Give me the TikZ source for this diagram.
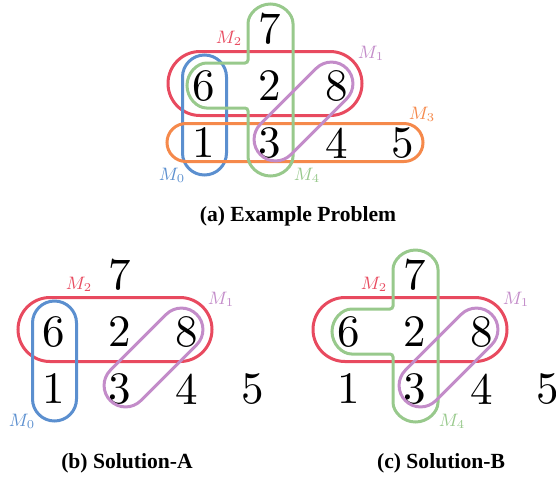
\documentclass[tikz,border=0pt]{standalone}
\usepackage{fontspec}
\usepackage{tikz}
\usetikzlibrary{shapes.misc}
\newfontfamily\capfont{Liberation Serif}
\newfontfamily\digitfont{lmroman10-regular.otf}
\definecolor{mred}{HTML}{E84A5F}
\definecolor{mblue}{HTML}{5B8FCF}
\definecolor{mgreen}{HTML}{98C98C}
\definecolor{morange}{HTML}{F5894B}
\definecolor{mpurple}{HTML}{C38CC9}

\begin{document}
\begin{tikzpicture}[x=0.5pt, y=-0.5pt,
    digit/.style={inner sep=0pt, font=\digitfont\fontsize{22.5}{22.5}\selectfont},
    grp/.style={rounded rectangle, draw, line width=1.5pt, inner sep=0pt},
    lbl/.style={inner sep=0pt, font=\fontsize{9}{9}\selectfont},
    subcap/.style={inner sep=0pt, font=\capfont\bfseries\fontsize{10.8}{10.8}\selectfont}]
  \useasboundingbox (0,0) rectangle (556,478);

  % the numbers, three times
  \foreach \p/\dx/\dy in {a/0/0, b/-150/246, c/145/246}
    \foreach \d/\x/\y in {7/270/29, 6/204/86, 2/270/86, 8/337/86,
                          1/204/143, 3/270/143, 4/337/143, 5/403/143}
      \node[digit] (\p\d) at (\x+\dx,\y+\dy) {\d};

  % (a) example problem
  \node[grp, mred, minimum width=97pt, minimum height=32pt] (am2) at (265,83.5) {};
  \node[grp, mblue, rotate=90, minimum width=60pt, minimum height=22pt] (am0) at (204.5,115) {};
  \node[grp, morange, minimum width=128pt, minimum height=19pt] (am3) at (295,142.5) {};
  \draw[mgreen, line width=1.5pt, rounded corners=1.5pt] (248,26.5) arc (180:360:22.5) -- (293,153.5)
    arc (0:180:22.5) -- (248,108) -- (209.5,108) arc (90:270:22.5) -- (248,63) -- cycle;
  \node[grp, mpurple, rotate=45, minimum width=61pt, minimum height=21.5pt] (am1) at (303.5,111.5) {};
  \node[lbl, text=mred] (am2l) at (229,38) {$M_2$};
  \node[lbl, text=mpurple] (am1l) at (371,53) {$M_1$};
  \node[lbl, text=morange] (am3l) at (422,114) {$M_3$};
  \node[lbl, text=mblue] (am0l) at (172,175) {$M_0$};
  \node[lbl, text=mgreen] (am4l) at (307,175) {$M_4$};
  \node[subcap] (acap) at (298,216) {(a) Example Problem};

  % (b) solution A
  \begin{scope}[shift={(-150,246)}]
    \node[grp, mred, minimum width=97pt, minimum height=32pt] (bm2) at (265,83.5) {};
    \node[grp, mblue, rotate=90, minimum width=60pt, minimum height=22pt] (bm0) at (204.5,115) {};
    \node[grp, mpurple, rotate=45, minimum width=61pt, minimum height=21.5pt] (bm1) at (303.5,111.5) {};
    \node[lbl, text=mred] (bm2l) at (229,38) {$M_2$};
    \node[lbl, text=mpurple] (bm1l) at (371,53) {$M_1$};
    \node[lbl, text=mblue] (bm0l) at (172,175) {$M_0$};
  \end{scope}
  \node[subcap] (bcap) at (127,463) {(b) Solution-A};

  % (c) solution B
  \begin{scope}[shift={(145,246)}]
    \node[grp, mred, minimum width=97pt, minimum height=32pt] (cm2) at (265,83.5) {};
    \draw[mgreen, line width=1.5pt, rounded corners=1.5pt] (248,26.5) arc (180:360:22.5) -- (293,153.5)
      arc (0:180:22.5) -- (248,108) -- (209.5,108) arc (90:270:22.5) -- (248,63) -- cycle;
    \node[grp, mpurple, rotate=45, minimum width=61pt, minimum height=21.5pt] (cm1) at (303.5,111.5) {};
    \node[lbl, text=mred] (cm2l) at (229,38) {$M_2$};
    \node[lbl, text=mpurple] (cm1l) at (371,53) {$M_1$};
    \node[lbl, text=mgreen] (cm4l) at (307,175) {$M_4$};
  \end{scope}
  \node[subcap] (ccap) at (441,463) {(c) Solution-B};
\end{tikzpicture}
\end{document}
